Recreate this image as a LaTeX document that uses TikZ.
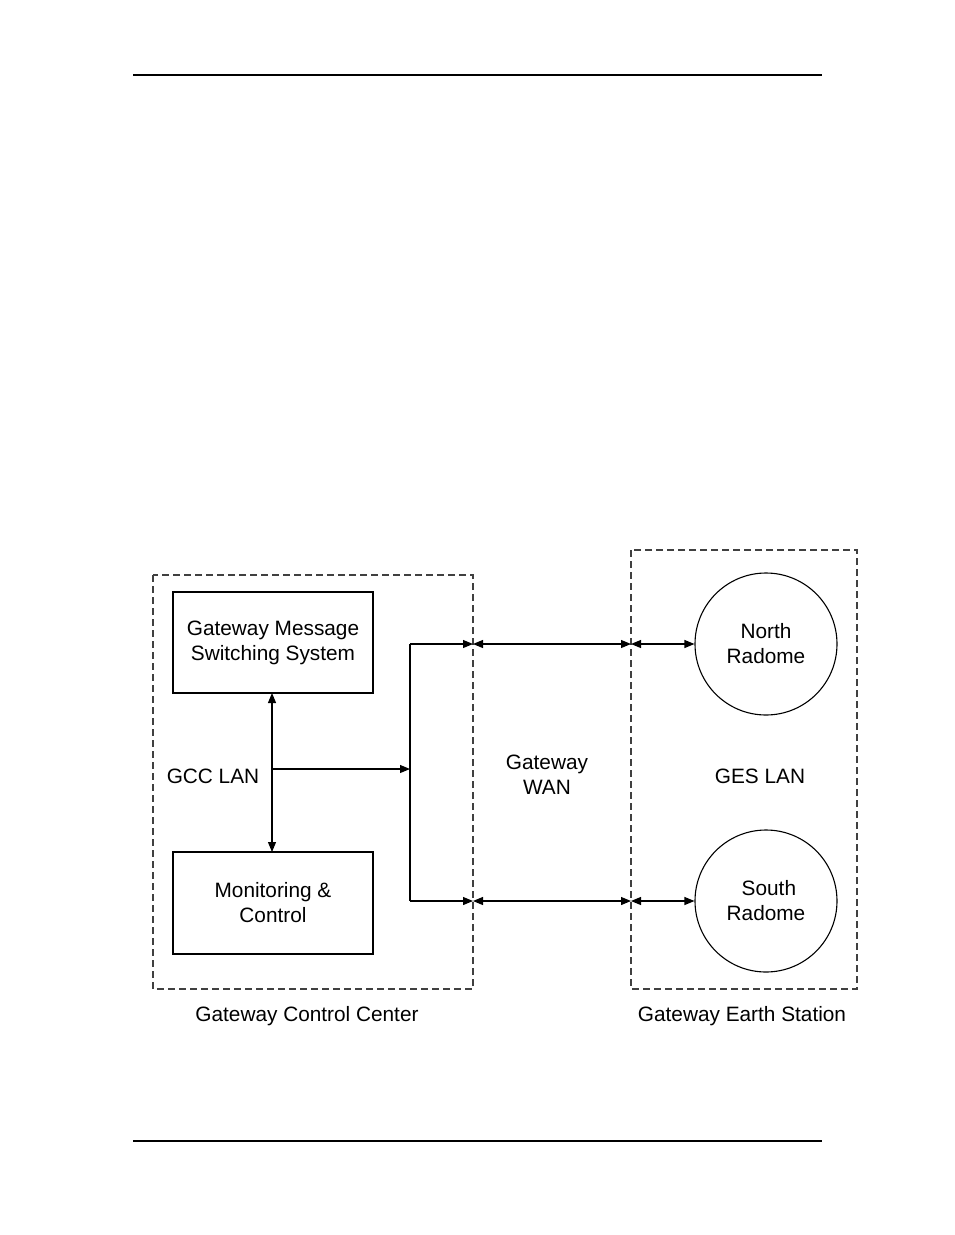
\documentclass[tikz,border=0pt]{standalone}
\usepackage{fontspec}
\setmainfont{Liberation Sans}
\usetikzlibrary{arrows.meta}
\begin{document}
\begin{tikzpicture}[x=1pt,y=-1pt,
  lbl/.style={font=\fontsize{20.8}{25}\selectfont, align=center},
  dbox/.style={draw=black!75, dash pattern=on 7pt off 4pt, line width=1.1pt},
  sbox/.style={draw, line width=1.1pt},
  con/.style={line width=1.1pt, -{Triangle[length=10pt,width=8pt]}},
  dcon/.style={line width=1.1pt, {Triangle[length=10pt,width=8pt]}-{Triangle[length=10pt,width=8pt]}}]
\useasboundingbox (0,0) rectangle (954,1235);
\draw[line width=2pt] (133,75) -- (822,75);
\draw[line width=2pt] (133,1141) -- (822,1141);
\draw[dbox] (153,575) rectangle (473,989);
\draw[dbox] (631,550) rectangle (857,989);
\node[sbox, minimum width=200pt, minimum height=101pt, lbl] (gmss) at (273,642.5) {Gateway Message\\Switching System};
\node[sbox, minimum width=200pt, minimum height=102pt, lbl] (mc) at (273,903) {Monitoring \&\\Control};
\node[circle, draw, line width=1.1pt, minimum size=142pt, lbl] (nr) at (766,644) {North\\Radome};
\node[circle, draw, line width=1.1pt, minimum size=142pt, lbl] (sr) at (766,901) {\ South\\Radome};
\node[lbl] at (213,776) {GCC LAN};
\node[lbl] at (547,775) {Gateway\\WAN};
\node[lbl] at (760,776) {GES LAN};
\node[lbl] at (307,1016) {Gateway Control Center};
\node[lbl] at (742,1016) {Gateway Earth Station};
\coordinate (j) at (272,769);
\coordinate (b) at (410,769);
\coordinate (bt) at (410,644);
\coordinate (bb) at (410,901);
\coordinate (g1) at (473,644);
\coordinate (g2) at (473,901);
\coordinate (e1) at (631,644);
\coordinate (e2) at (631,901);
\draw[dcon] (272,693) -- (272,852);
\draw[con] (j) -- (b);
\draw[line width=1.1pt] (bt) -- (bb);
\draw[con] (bt) -- (g1);
\draw[con] (bb) -- (g2);
\draw[dcon] (g1) -- (e1);
\draw[dcon] (g2) -- (e2);
\draw[dcon] (e1) -- (nr.west);
\draw[dcon] (e2) -- (sr.west);
\end{tikzpicture}
\end{document}
